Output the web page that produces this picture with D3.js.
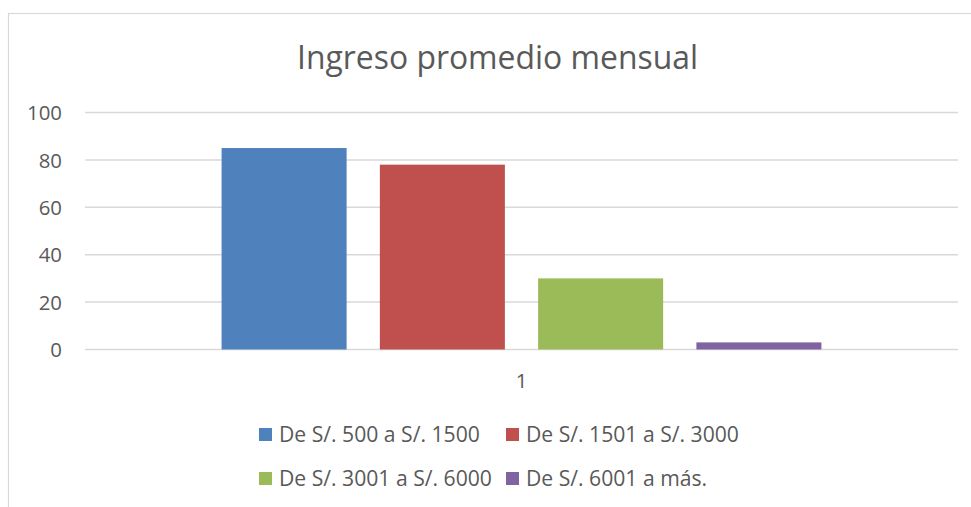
<!DOCTYPE html>
<html><head><meta charset="utf-8">
<script src="https://cdn.jsdelivr.net/npm/d3@7"></script>
<style>body{margin:0;background:#fff;} svg{display:block;font-family:"Open Sans",sans-serif;}</style>
</head><body>
<script>
const title = "Ingreso promedio mensual";
const categories = ["1"];
const seriesNames = ["De S/. 500 a S/. 1500","De S/. 1501 a S/. 3000","De S/. 3001 a S/. 6000","De S/. 6001 a más."];
const seriesValues = [85, 78, 30, 3];
const seriesColors = ["#4f81bd","#c0504d","#9bbb59","#8064a2"];
const yTicks = [0,20,40,60,80,100];

const W=971,H=507;
const svg=d3.select("body").append("svg").attr("width",W).attr("height",H);
svg.append("rect").attr("x",8.5).attr("y",13.5).attr("width",W).attr("height",H).attr("fill","#fff").attr("stroke","#d9d9d9").attr("stroke-width",1.2);

const x0=d3.scaleBand().domain(categories).range([85,958]).padding(0);
const x1=d3.scaleBand().domain(seriesNames).range([0,x0.bandwidth()]).paddingInner(0.21).paddingOuter(0.863);
const y=d3.scaleLinear().domain([0,100]).range([349.5,112.5]);

function fit(sel,target){const n=sel.node();const w=n.getComputedTextLength();const fs=parseFloat(sel.attr("font-size"));sel.attr("font-size",fs*target/w);}

// grid
svg.append("g").selectAll("line").data(yTicks).join("line")
 .attr("x1",85).attr("x2",958).attr("y1",d=>y(d)).attr("y2",d=>y(d))
 .attr("stroke","#d9d9d9").attr("stroke-width",1.5);

const yAxis=d3.axisLeft(y).tickValues(yTicks).tickSize(0).tickPadding(0);
const ga=svg.append("g").attr("transform","translate(62,0)").call(yAxis);
ga.select(".domain").remove();
ga.selectAll("text").attr("font-family","Open Sans").attr("font-size",18).attr("fill","#595959").attr("dy","0.35em");
ga.selectAll("text").each(function(d){ if(d===100) fit(d3.select(this),35); });
const fsTick=ga.selectAll("text").filter(d=>d===100).attr("font-size");
ga.selectAll("text").attr("font-size",fsTick);

// bars
const cat = categories[0];
svg.append("g").selectAll("rect").data(seriesValues).join("rect")
 .attr("x",(d,i)=>x0(cat)+x1(seriesNames[i]))
 .attr("width",x1.bandwidth())
 .attr("y",d=>y(d)).attr("height",d=>y(0)-y(d))
 .attr("fill",(d,i)=>seriesColors[i]);

// x axis label
const xAxis=d3.axisBottom(x0).tickSize(0).tickPadding(0);
const gx=svg.append("g").attr("transform","translate(0,381)").call(xAxis);
gx.select(".domain").remove();
gx.selectAll("text").attr("font-family","Open Sans").attr("font-size",fsTick).attr("fill","#595959").attr("dy","0.35em");

// title
const t=svg.append("text").attr("x",497.5).attr("y",69).attr("text-anchor","middle").attr("font-size",32).attr("fill","#595959").text(title);
fit(t,401);

// legend
const legPos=[[259,435],[506,435],[259,479],[506,479]];
const lg=svg.append("g").selectAll("g").data(seriesNames).join("g").attr("transform",(d,i)=>`translate(${legPos[i][0]},${legPos[i][1]})`);
lg.append("rect").attr("x",0).attr("y",-7).attr("width",13).attr("height",13).attr("fill",(d,i)=>seriesColors[i]);
const lt=lg.append("text").attr("x",20).attr("y",0).attr("dy","0.35em").attr("font-size",18).attr("fill","#595959").text(d=>d);
fit(d3.select(lt.nodes()[0]),201);
lt.attr("font-size",d3.select(lt.nodes()[0]).attr("font-size"));
</script>
</body></html>
